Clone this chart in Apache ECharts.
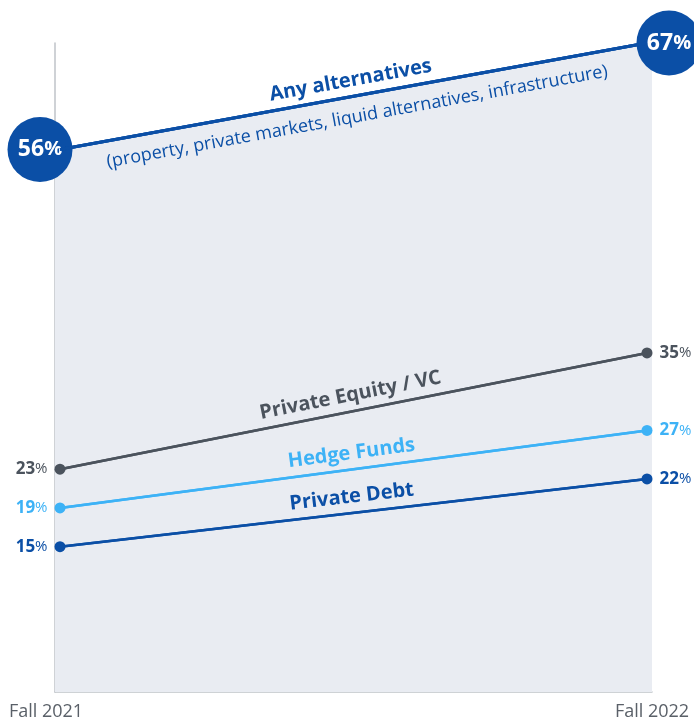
<!DOCTYPE html>
<html>
<head>
<meta charset="utf-8">
<script src="https://cdn.jsdelivr.net/npm/echarts@6/dist/echarts.min.js"></script>
<style>
  html, body { margin: 0; padding: 0; background: #fff; }
  #chart { width: 694px; height: 725px; }
</style>
</head>
<body>
<div id="chart"></div>
<script>
var categories = ["Fall 2021", "Fall 2022"];
var anyAlternatives = [56, 67];
var privateEquity = [23, 35];
var hedgeFunds = [19, 27];
var privateDebt = [15, 22];

var FONT = "Open Sans";
var DARK_BLUE = "#0b4fa6";
var GREY = "#4b535d";
var LIGHT_BLUE = "#3db2f6";

var chart = echarts.init(document.getElementById("chart"));

// label next to end point: bold number, thinner %
function valueLabel(color, side) {
  return {
    show: true,
    position: side,
    distance: 7,
    formatter: function (p) {
      return "{n|" + p.value + "}{p|%}";
    },
    rich: {
      n: { fontFamily: FONT, fontSize: 17, fontWeight: "bold", color: color },
      p: { fontFamily: FONT, fontSize: 15, color: color }
    }
  };
}

// one line series for the small categories
function slopeSeries(name, values, color) {
  return {
    name: name,
    type: "line",
    xAxisIndex: 1,
    yAxisIndex: 1,
    data: values.map(function (v, i) {
      return { value: v, label: valueLabel(color, i === 0 ? "left" : "right") };
    }),
    symbol: "circle",
    symbolSize: 11,
    clip: false,
    itemStyle: { color: color },
    lineStyle: { color: color, width: 2.5 },
    markLine: {
      silent: true,
      symbol: ["none", "none"],
      lineStyle: { color: color, width: 2.5, type: "solid" },
      label: {
        show: true,
        position: "insideMiddleTop",
        distance: 6,
        formatter: "{b}",
        fontFamily: FONT,
        fontSize: 20,
        fontWeight: "bold",
        color: color
      },
      data: [[
        { coord: [0, values[0]], name: name },
        { coord: [1, values[1]] }
      ]]
    },
    z: 3
  };
}

var option = {
  animation: false,
  grid: [
    { left: 55, right: 42, top: 43, bottom: 33 },
    { left: 60, right: 47, top: 43, bottom: 33 }
  ],
  xAxis: [
    {
      type: "category",
      gridIndex: 0,
      data: categories,
      boundaryGap: false,
      axisLine: { show: true, lineStyle: { color: "#bfc3c8", width: 1.5 } },
      axisTick: { show: false },
      axisLabel: {
        margin: 11,
        formatter: function (v, i) {
          return i === 0 ? "{l|" + v + "}" : "{r|" + v + "}";
        },
        rich: {
          l: { fontFamily: FONT, fontSize: 18, color: "#5a6068", padding: [0, 18, 0, 0] },
          r: { fontFamily: FONT, fontSize: 18, color: "#5a6068", padding: [0, 0, 0, 0] }
        }
      }
    },
    {
      type: "category",
      gridIndex: 1,
      data: categories,
      boundaryGap: false,
      show: false
    }
  ],
  yAxis: [
    {
      type: "value",
      gridIndex: 0,
      min: 0,
      max: 67,
      axisLine: { show: true, lineStyle: { color: "#bfc3c8", width: 1.5 } },
      axisTick: { show: false },
      axisLabel: { show: false },
      splitLine: { show: false }
    },
    {
      type: "value",
      gridIndex: 1,
      min: 0,
      max: 67,
      show: false,
      splitLine: { show: false }
    }
  ],
  series: [
    {
      // shaded area under the "any alternatives" line
      type: "line",
      xAxisIndex: 0,
      yAxisIndex: 0,
      data: anyAlternatives,
      symbol: "none",
      lineStyle: { width: 0 },
      areaStyle: { color: "#e9ecf2", opacity: 1 },
      silent: true,
      z: 1
    },
    slopeSeries("Private Debt", privateDebt, DARK_BLUE),
    slopeSeries("Hedge Funds", hedgeFunds, LIGHT_BLUE),
    slopeSeries("Private Equity / VC", privateEquity, GREY),
    {
      name: "Any alternatives",
      type: "line",
      xAxisIndex: 1,
      yAxisIndex: 1,
      clip: false,
      data: anyAlternatives.map(function (v, i) {
        return { value: v, symbolOffset: [i === 0 ? -20 : 22, 0] };
      }),
      symbol: "circle",
      symbolSize: 65,
      itemStyle: { color: DARK_BLUE },
      lineStyle: { color: DARK_BLUE, width: 3 },
      label: {
        show: true,
        position: "inside",
        formatter: function (p) {
          return "{n|" + p.value + "}{p|%}";
        },
        rich: {
          n: { fontFamily: FONT, fontSize: 23, fontWeight: "bold", color: "#fff" },
          p: { fontFamily: FONT, fontSize: 20, fontWeight: "bold", color: "#fff" }
        }
      },
      markLine: {
        silent: true,
        symbol: ["none", "none"],
        lineStyle: { color: DARK_BLUE, width: 3, type: "solid" },
        data: [
          [
            {
              coord: [0, anyAlternatives[0]],
              name: "Any alternatives",
              label: {
                show: true,
                position: "insideMiddleTop",
                distance: 6,
                formatter: "{b}",
                fontFamily: FONT,
                fontSize: 20,
                fontWeight: "bold",
                color: DARK_BLUE
              }
            },
            { coord: [1, anyAlternatives[1]] }
          ],
          [
            {
              coord: [0, anyAlternatives[0]],
              name: "(property, private markets, liquid alternatives, infrastructure)",
              label: {
                show: true,
                position: "insideMiddleBottom",
                distance: 12,
                formatter: "{b}",
                fontFamily: FONT,
                fontSize: 18,
                color: DARK_BLUE
              }
            },
            { coord: [1, anyAlternatives[1]] }
          ]
        ]
      },
      z: 4
    }
  ]
};

chart.setOption(option);

window.onresize = function () {
  chart.resize();
};
</script>
</body>
</html>
